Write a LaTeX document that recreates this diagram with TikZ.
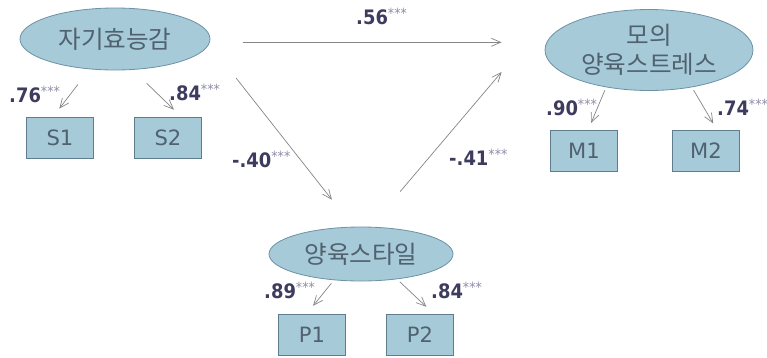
\documentclass[tikz,border=0pt]{standalone}
\usepackage{fontspec}
\setmainfont{DejaVu Sans}
\newfontfamily\krfont{Noto Sans CJK KR}
\newfontfamily\coeffont{DejaVu Sans Condensed}
\usetikzlibrary{shapes.geometric,arrows.meta,calc}
\definecolor{semFill}{HTML}{A6CAD8}
\definecolor{semEdge}{HTML}{6E93A6}
\definecolor{semBox}{HTML}{5F7D8F}
\definecolor{semText}{HTML}{50616F}
\definecolor{coefNavy}{HTML}{3E3C5E}
\definecolor{starGray}{HTML}{8E8CA8}
\definecolor{lineGray}{HTML}{858585}
\newcommand{\sigstar}{\raisebox{4.5pt}{\fontsize{12}{12}\mdseries\selectfont\color{starGray}***}}

\begin{document}
\begin{tikzpicture}[x=0.03cm,y=-0.03cm]
  \tikzset{
    latent/.style={ellipse,draw=semEdge,fill=semFill,line width=0.7pt,inner sep=0pt,text=semText,font=\krfont\fontsize{21}{25}\selectfont,align=center},
    indicator/.style={rectangle,draw=semBox,fill=semFill,line width=0.7pt,minimum width=2.02cm,minimum height=1.23cm,text=semText,font=\fontsize{18}{20}\selectfont},
    coef/.style={anchor=base west,inner sep=0pt,text=coefNavy,font=\coeffont\bfseries\fontsize{17}{20}\selectfont},
    link/.style={draw=lineGray,line width=0.6pt,-{Straight Barb[length=2.8mm,width=2.4mm]}}
  }
  \useasboundingbox (0,0) rectangle (767,357);

  \node[latent,minimum width=5.7cm,minimum height=1.86cm] (sk) at (115,39) {자기효능감};
  \node[latent,minimum width=6.24cm,minimum height=2.43cm] (mo) at (649,50) {모의\\양육스트레스};
  \node[latent,minimum width=5.52cm,minimum height=1.62cm] (pa) at (361,254) {양육스타일};

  \node[indicator] (s1) at (60,138) {S1};
  \node[indicator] (s2) at (168,138) {S2};
  \node[indicator] (m1) at (584,151) {M1};
  \node[indicator] (m2) at (706,151) {M2};
  \node[indicator] (p1) at (312,335) {P1};
  \node[indicator] (p2) at (420,335) {P2};

  \draw[link,shorten <=0.58cm,shorten >=0.32cm] (sk.230) -- (s1.109);
  \draw[link,shorten <=0.58cm,shorten >=0.32cm] (sk.300) -- (s2.57);
  \draw[link,shorten <=0.1cm,shorten >=0.23cm] (mo.221) -- (m1.79);
  \draw[link,shorten <=0.1cm,shorten >=0.23cm] (mo.319) -- (m2.62);
  \draw[link,shorten <=0.12cm,shorten >=0.32cm] (pa.224) -- (p1.105);
  \draw[link,shorten <=0.12cm,shorten >=0.32cm] (pa.325) -- (p2.56);

  \draw[link,shorten <=0.99cm,shorten >=1.29cm] (sk.358) -- (sk.358 -| mo.west);
  \draw[link,shorten <=1.31cm,shorten >=1.03cm] (sk.357) -- (pa.106);
  \draw[link,shorten <=1.38cm] (pa.71) -- ($(mo.west)+(-43,22)$);

  \node[coef] (c56) at (356,24) {.56\sigstar};
  \node[coef] (c76) at (9,102) {.76\sigstar};
  \node[coef] (c84s) at (169,100) {.84\sigstar};
  \node[coef] (c90) at (546,115) {.90\sigstar};
  \node[coef] (c74) at (717,115) {.74\sigstar};
  \node[coef] (c40) at (232,167) {-.40\sigstar};
  \node[coef] (c41) at (449,165) {-.41\sigstar};
  \node[coef] (c89) at (264,298) {.89\sigstar};
  \node[coef] (c84p) at (431,298) {.84\sigstar};
\end{tikzpicture}
\end{document}
